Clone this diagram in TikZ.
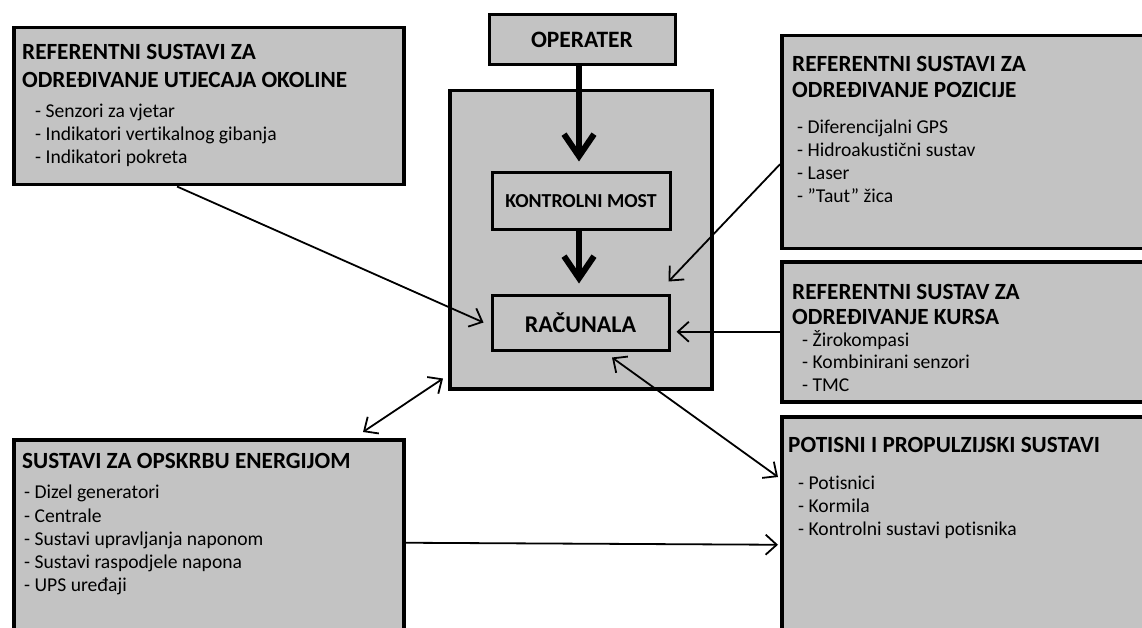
\documentclass[tikz,border=0pt]{standalone}
\usepackage{fontspec}
\setmainfont{Carlito}[Ligatures={ResetAll}, RawFeature={-liga}]
\usetikzlibrary{arrows.meta}
\definecolor{boxgray}{HTML}{C3C3C3}
\tikzset{
  panel/.style={draw=black, fill=boxgray, line width=3.5pt, inner sep=0pt, anchor=north west},
  inbox/.style={draw=black, fill=boxgray, line width=3pt, inner sep=0pt},
  ttl/.style={anchor=north west, inner sep=0pt, align=left, font=\fontsize{23.2}{28.5}\selectfont\bfseries},
  itm/.style={anchor=north west, inner sep=0pt, align=left, font=\fontsize{19.6}{23}\selectfont},
  thin/.style={line width=1.8pt, -{Straight Barb[length=11pt,width=20pt]}},
  thinboth/.style={line width=1.8pt, {Straight Barb[length=11pt,width=20pt]}-{Straight Barb[length=11pt,width=20pt]}},
  thick/.style={line width=6pt, -{Straight Barb[length=22pt,width=30pt]}}
}
\begin{document}
\begin{tikzpicture}[x=1pt,y=-1pt]
\useasboundingbox (0,0) rectangle (1142,628);
\clip (0,0) rectangle (1142,628);
% panels
\node[panel, minimum width=390pt, minimum height=157pt] (b1) at (12,26) {};
\node[panel, minimum width=370pt, minimum height=213pt] (poz) at (780,34) {};
\node[panel, minimum width=370pt, minimum height=140pt] (kurs) at (780,260) {};
\node[panel, minimum width=370pt, minimum height=230pt] (pot) at (780,415) {};
\node[panel, minimum width=390pt, minimum height=210pt] (en) at (12,438) {};
\node[panel, minimum width=262pt, minimum height=298pt] (big) at (448,89) {};
% inner boxes
\node[inbox, minimum width=186pt, minimum height=50pt, font=\fontsize{23.5}{27}\selectfont\bfseries] (op) at (582,40) {OPERATER};
\node[inbox, minimum width=178pt, minimum height=57pt, font=\fontsize{19.8}{23}\selectfont\bfseries] (km) at (581,201.5) {KONTROLNI MOST};
\node[inbox, minimum width=177pt, minimum height=55pt, font=\fontsize{24}{28}\selectfont\bfseries] (rac) at (580.5,322.5) {RAČUNALA};
% texts
\node[ttl] (t1) at (22,44) {REFERENTNI SUSTAVI ZA\\ODREĐIVANJE UTJECAJA OKOLINE};
\node[itm] (i1) at (35,104) {- Senzori za vjetar\\- Indikatori vertikalnog gibanja\\- Indikatori pokreta};
\node[ttl, font=\fontsize{23.2}{26.5}\selectfont\bfseries] (t2) at (792,56) {REFERENTNI SUSTAVI ZA\\ODREĐIVANJE POZICIJE};
\node[itm] (i2) at (797,120) {- Diferencijalni GPS\\- Hidroakustični sustav\\- Laser\\- "Taut" žica};
\node[ttl, font=\fontsize{23.2}{25.5}\selectfont\bfseries] (t3) at (792,284) {REFERENTNI SUSTAV ZA\\ODREĐIVANJE KURSA};
\node[itm, font=\fontsize{19.6}{22.5}\selectfont] (i3) at (802,330) {- Žirokompasi\\- Kombinirani senzori\\- TMC};
\node[ttl] (t4) at (788,437) {POTISNI I PROPULZIJSKI SUSTAVI};
\node[itm] (i4) at (798,476) {- Potisnici\\- Kormila\\- Kontrolni sustavi potisnika};
\node[ttl] (t5) at (22,453) {SUSTAVI ZA OPSKRBU ENERGIJOM};
\node[itm, font=\fontsize{19.6}{23.2}\selectfont] (i5) at (24,485) {- Dizel generatori\\- Centrale\\- Sustavi upravljanja naponom\\- Sustavi raspodjele napona\\- UPS uređaji};
% thick arrows
\draw[thick] ([xshift=-3pt]op.south) -- ([xshift=-2pt,yshift=10pt]km.north);
\draw[thick] ([xshift=-2pt]km.south) -- ([xshift=-1.5pt,yshift=10pt]rac.north);
% thin arrows
\draw[thin] ([xshift=165pt]b1.south west) -- ([xshift=-7pt]rac.west);
\draw[thin] ([yshift=-22pt]poz.west) -- ([xshift=-2pt,yshift=12pt]rac.north east);
\draw[thin] (kurs.west) -- ([xshift=6pt]kurs.west -| rac.east);
\draw[thinboth] ([xshift=31.5pt,yshift=-6pt]rac.south) -- ([xshift=-2pt,yshift=-62pt]pot.north west);
\draw[thinboth] ([xshift=351pt,yshift=6pt]en.north west) -- ([xshift=-5pt,yshift=12pt]big.south west);
\draw[thin] ([yshift=2pt]en.east) -- ([xshift=-2pt]en.east -| pot.west);
\end{tikzpicture}
\end{document}
